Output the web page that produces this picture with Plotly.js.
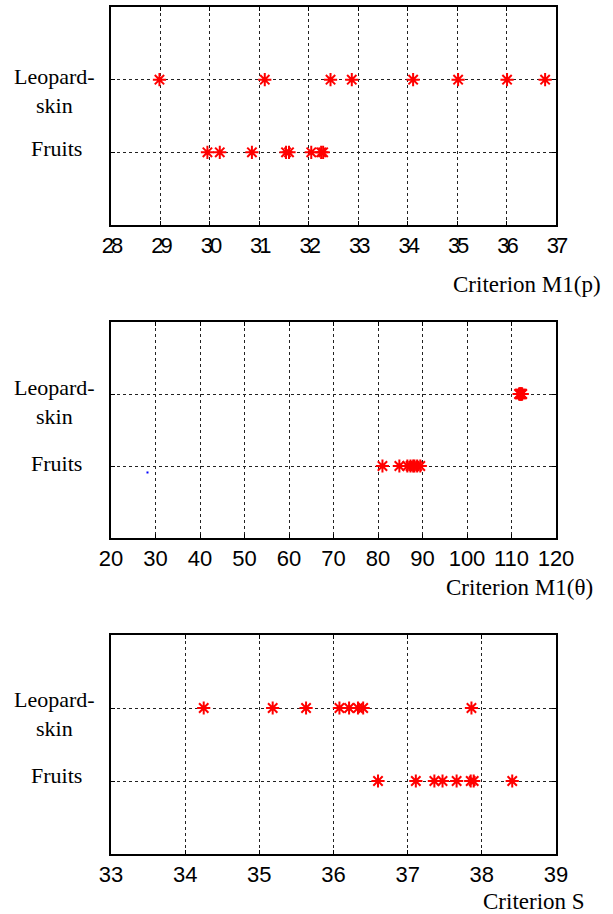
<!DOCTYPE html>
<html>
<head>
<meta charset="utf-8">
<script src="https://cdn.plot.ly/plotly-3.0.1.min.js"></script>
<style>
html,body{margin:0;padding:0;background:#fff;}
#chart{width:613px;height:914px;}
.xtick text{letter-spacing:-3px;}
</style>
</head>
<body>
<div id="chart"></div>
<script>
// Classes (y positions)
const classNames = ["Fruits", "Leopard-<br>skin"];
const classLevel = {fruits: 1, leopard: 2};

// Panel 1: Criterion M1(p)
const m1pLeopard = [28.98, 31.11, 32.44, 32.87, 34.11, 35.02, 36.01, 36.78];
const m1pFruits  = [29.95, 30.20, 30.85, 31.54, 31.60, 32.05, 32.25, 32.29];

// Panel 2: Criterion M1(theta)
const m1tLeopard = [111.7, 111.85, 111.9, 112.05, 112.1, 112.2, 112.35, 112.4];
const m1tFruits  = [81.0, 84.8, 86.6, 87.3, 87.9, 88.2, 88.8, 89.5];
const m1tStrayX = [28.2];
const m1tStrayY = [0.91];

// Panel 3: Criterion S
const sLeopard = [34.25, 35.18, 35.63, 36.08, 36.21, 36.33, 36.40, 37.86];
const sFruits  = [36.60, 37.11, 37.36, 37.47, 37.66, 37.85, 37.89, 38.41];

const axisTitles = ["Criterion M1(p)", "Criterion M1(θ)", "Criterion S"];
const xRanges = [[28, 37], [20, 120], [33, 39]];
const xDticks = [1, 10, 1];

const W = 613, H = 914, L = 111, R = 57;
const plotW = W - L - R;
const px2x = p => (p - L) / plotW;
const py2y = p => 1 - p / H;

function starTrace(xs, level, xa, ya) {
  return {
    x: xs, y: xs.map(() => level), xaxis: xa, yaxis: ya,
    type: 'scatter', mode: 'markers', showlegend: false, hoverinfo: 'x',
    marker: {symbol: 'asterisk-open', size: 11, color: 'red', line: {color: 'red', width: 2}}
  };
}

const data = [
  starTrace(m1pLeopard, classLevel.leopard, 'x', 'y'),
  starTrace(m1pFruits, classLevel.fruits, 'x', 'y'),
  starTrace(m1tLeopard, classLevel.leopard, 'x2', 'y2'),
  starTrace(m1tFruits, classLevel.fruits, 'x2', 'y2'),
  {x: m1tStrayX, y: m1tStrayY, xaxis: 'x2', yaxis: 'y2', type: 'scatter', mode: 'markers',
   showlegend: false, marker: {symbol: 'square', size: 2, color: 'blue'}},
  starTrace(sLeopard, classLevel.leopard, 'x3', 'y3'),
  starTrace(sFruits, classLevel.fruits, 'x3', 'y3')
];

// panel pixel boxes [top, bottom]
const yBoxes = [[7, 225], [322, 538], [635, 854]];

function xAxis(i, anchor) {
  return {
    domain: [0, 1], anchor: anchor, range: xRanges[i], dtick: xDticks[i], tick0: xRanges[i][0],
    showgrid: true, gridcolor: '#222', griddash: 'dot', gridwidth: 1,
    showline: true, linecolor: 'black', linewidth: 2, mirror: 'ticks',
    ticks: 'inside', ticklen: 4, tickcolor: 'black', zeroline: false,
    tickfont: {family: '"Liberation Sans Narrow", "Arial Narrow", "Liberation Sans", sans-serif', size: 22, color: 'black'},
    fixedrange: true
  };
}
function yAxis(i, anchor) {
  const b = yBoxes[i];
  return {
    domain: [1 - b[1] / H, 1 - b[0] / H], anchor: anchor, range: [0, 3],
    tickvals: [1, 2], showticklabels: false,
    showgrid: true, gridcolor: '#222', griddash: 'dot', gridwidth: 1,
    showline: true, linecolor: 'black', linewidth: 2, mirror: 'ticks',
    ticks: 'inside', ticklen: 4, tickcolor: 'black', zeroline: false, fixedrange: true
  };
}

const serif = {family: '"Liberation Serif", "Times New Roman", serif', size: 22, color: 'black'};
const serifTitle = {family: '"Liberation Serif", "Times New Roman", serif', size: 23, color: 'black'};
const annotations = [];
// class labels
const labelShifts = [[-11, 4], [-8, 3], [-6, 6]];
const yrefs = ['y', 'y2', 'y3'];
for (let i = 0; i < 3; i++) {
  annotations.push({xref: 'paper', yref: yrefs[i], x: px2x(54), y: classLevel.leopard,
    xanchor: 'center', yanchor: 'middle', yshift: labelShifts[i][0], align: 'center',
    text: classNames[1], showarrow: false, font: serif});
  annotations.push({xref: 'paper', yref: yrefs[i], x: px2x(56), y: classLevel.fruits,
    xanchor: 'center', yanchor: 'middle', yshift: labelShifts[i][1], align: 'center',
    text: classNames[0], showarrow: false, font: serif});
}
// axis titles
const titlePos = [[603, 284], [595, 587], [587, 901]];
for (let i = 0; i < 3; i++) {
  annotations.push({xref: 'paper', yref: 'paper', x: px2x(titlePos[i][0]), y: py2y(titlePos[i][1]),
    xanchor: 'right', yanchor: 'middle', text: axisTitles[i], showarrow: false, font: serifTitle});
}

const layout = {
  width: W, height: H,
  margin: {l: L, r: R, t: 0, b: 0},
  paper_bgcolor: 'white', plot_bgcolor: 'white',
  showlegend: false,
  xaxis: xAxis(0, 'y'), yaxis: yAxis(0, 'x'),
  xaxis2: xAxis(1, 'y2'), yaxis2: yAxis(1, 'x2'),
  xaxis3: xAxis(2, 'y3'), yaxis3: yAxis(2, 'x3'),
  annotations: annotations
};

Plotly.newPlot('chart', data, layout, {displayModeBar: false, staticPlot: true});
</script>
</body>
</html>
